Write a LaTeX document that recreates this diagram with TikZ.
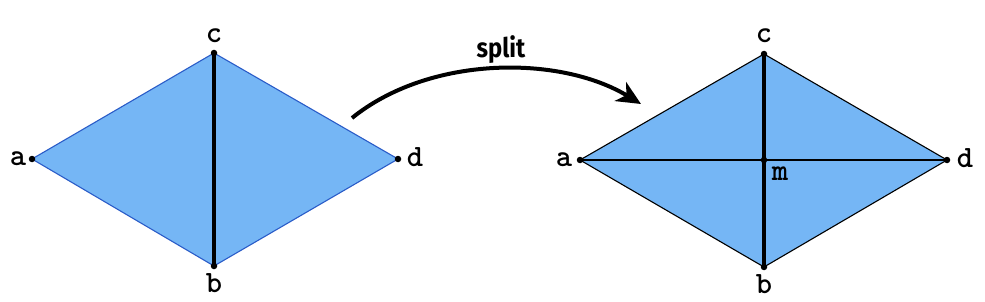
\documentclass[tikz,border=0pt]{standalone}
\usepackage{fontspec}
\newfontfamily\splitfont{Fira Sans}
\usetikzlibrary{arrows.meta}
\definecolor{fillblue}{HTML}{75B6F5}
\definecolor{edgeblue}{HTML}{2A5CC8}
\begin{document}
\begin{tikzpicture}[x=1pt,y=-1pt,
  vtx/.style={circle,fill=black,inner sep=0pt,minimum size=6.5pt},
  lbl/.style={font=\ttfamily\bfseries\fontsize{31}{31}\selectfont,inner sep=0pt},
  thin edge/.style={line width=1.1pt},
  split edge/.style={line width=3.6pt}]
\useasboundingbox (0,0) rectangle (985,302);
% left diamond
\coordinate (la) at (32,159);
\coordinate (lc) at (214,53);
\coordinate (ld) at (398,159);
\coordinate (lb) at (214,266);
\fill[fillblue] (la) -- (lc) -- (ld) -- (lb) -- cycle;
\draw[thin edge,edgeblue] (la) -- (lc) -- (ld) -- (lb) -- cycle;
\draw[split edge] (lc) -- (lb);
\foreach \p in {la,lb,lc,ld} \node[vtx] at (\p) {};
\node[lbl] (tla) at (18,159) {a};
\node[lbl] (tlc) at (214,36) {c};
\node[lbl] (tlb) at (214,283) {b};
\node[lbl] (tld) at (415,157) {d};
% right diamond
\coordinate (ra) at (580,160);
\coordinate (rc) at (764,54);
\coordinate (rd) at (947,160);
\coordinate (rb) at (764,267);
\coordinate (rm) at (764,160);
\fill[fillblue] (ra) -- (rc) -- (rd) -- (rb) -- cycle;
\draw[thin edge] (ra) -- (rc) -- (rd) -- (rb) -- cycle;
\draw[thin edge] (ra) -- (rd);
\draw[split edge] (rc) -- (rb);
\foreach \p in {ra,rb,rc,rd,rm} \node[vtx] at (\p) {};
\node[lbl] (tra) at (564,160) {a};
\node[lbl] (trc) at (764,36) {c};
\node[lbl] (trb) at (764,284) {b};
\node[lbl] (trd) at (965,158) {d};
\node[lbl] (trm) at (780,174) {m};
% arrow
\coordinate (as) at (352,118);
\coordinate (ae) at (641,104);
\draw[line width=4pt,-{Stealth[length=24pt,width=22pt,inset=7pt]}] (as) .. controls (430,55) and (560,55) .. (ae);
\node[font=\splitfont\bfseries\fontsize{27}{27}\selectfont,inner sep=0pt] (split) at (501,50) {\scalebox{0.88}[1]{split}};
\end{tikzpicture}
\end{document}
